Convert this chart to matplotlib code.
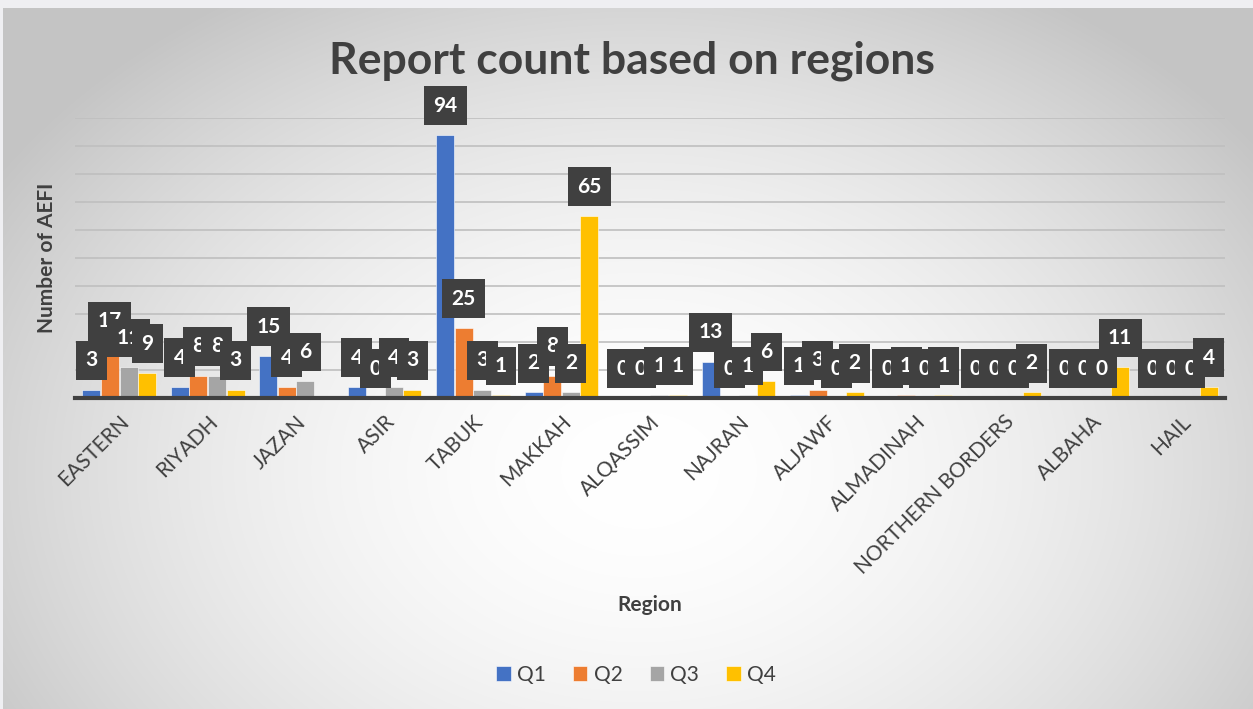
import numpy as np
import matplotlib
matplotlib.use("Agg")
import matplotlib.pyplot as plt

plt.rcParams["font.family"] = ["Lato", "DejaVu Sans"]

regions = ["EASTERN", "RIYADH", "JAZAN", "ASIR", "TABUK", "MAKKAH", "ALQASSIM",
           "NAJRAN", "ALJAWF", "ALMADINAH", "NORTHERN BORDERS", "ALBAHA", "HAIL"]
q1 = [3, 4, 15, 4, 94, 2, 0, 13, 1, 0, 0, 0, 0]
q2 = [17, 8, 4, 0, 25, 8, 0, 0, 3, 1, 0, 0, 0]
q3 = [11, 8, 6, 4, 3, 2, 1, 1, 0, 0, 0, 0, 0]
q4 = [9, 3, np.nan, 3, 1, 65, 1, 6, 2, 1, 2, 11, 4]
series_names = ["Q1", "Q2", "Q3", "Q4"]
colors = ["#4472C4", "#ED7D31", "#A5A5A5", "#FFC000"]

W, H = 1253, 709
fig = plt.figure(figsize=(W / 100, H / 100), dpi=100)

# background with radial gradient
bg = fig.add_axes([0, 0, 1, 1], zorder=-10)
yy, xx = np.mgrid[0:H, 0:W]
cx, cy = 640, 470
r = np.sqrt(((xx - cx) / 760.0) ** 2 + ((yy - cy) / 560.0) ** 2)
val = 1.0 - 0.23 * np.clip(r, 0, 1) ** 1.8
img = np.dstack([val, val, val])
img[:8, :, :] = np.array([0.94, 0.94, 0.95])
img[:, :3, :] = np.array([0.94, 0.94, 0.95])
bg.imshow(img, extent=[0, W, H, 0], aspect="auto")
bg.set_xlim(0, W)
bg.set_ylim(H, 0)
bg.axis("off")

# plot area: x 75..1225, y 118..398 (pixels from top)
left, right, top, bottom = 75 / W, 1225 / W, 118 / H, 398 / H
ax = fig.add_axes([left, 1 - bottom, right - left, bottom - top])
ax.patch.set_alpha(0)

x = np.arange(len(regions))
width = 0.21
data = [q1, q2, q3, q4]
for i, (vals, c) in enumerate(zip(data, colors)):
    pos = x + (i - 1.5) * width
    v = np.array(vals, dtype=float)
    ax.bar(pos, np.nan_to_num(v), width=width * 0.97, color=c, label=series_names[i],
           zorder=3, edgecolor="white", linewidth=0.4)
    for p, val_ in zip(pos, v):
        if np.isnan(val_):
            continue
        ax.annotate(f"{int(val_)}", xy=(p, val_), xytext=(0, 21), textcoords="offset points",
                    ha="center", va="center", fontsize=15, fontweight="bold", color="white",
                    bbox=dict(boxstyle="square,pad=0.45", fc="#404040", ec="none"),
                    zorder=5, annotation_clip=False)

ax.set_xlim(-0.5, len(regions) - 0.5)
ax.set_ylim(0, 100)
ax.set_yticks(np.arange(0, 101, 10))
ax.set_yticklabels([])
ax.tick_params(axis="y", length=0)
ax.grid(axis="y", color="#BFBFBF", linewidth=1.2, zorder=0)
for s in ["top", "right", "left"]:
    ax.spines[s].set_visible(False)
ax.spines["bottom"].set_color("#404040")
ax.spines["bottom"].set_linewidth(3)
ax.spines["bottom"].set_zorder(4)
ax.set_xticks(x)
ax.set_xticklabels(regions, rotation=45, ha="right", rotation_mode="anchor",
                   fontsize=15, color="#404040")
ax.tick_params(axis="x", length=0, pad=10)
ax.set_ylabel("Number of AEFI", fontsize=15, fontweight="bold", color="#404040")
ax.yaxis.set_label_coords(-0.016, 0.5)

fig.text(632 / W, 1 - 61 / H, "Report count based on regions", ha="center", va="center",
         fontsize=32, fontweight="bold", color="#404040")
fig.text(650 / W, 1 - 605 / H, "Region", ha="center", va="center",
         fontsize=15, fontweight="bold", color="#404040")

handles, labels = ax.get_legend_handles_labels()
fig.legend(handles, labels, loc="center", bbox_to_anchor=(636 / W, 1 - 675 / H), ncol=4,
           frameon=False, fontsize=15, handlelength=0.7, handleheight=0.7,
           handletextpad=0.3, columnspacing=1.3, labelcolor="#404040")

fig.savefig("out.png", dpi=100)
